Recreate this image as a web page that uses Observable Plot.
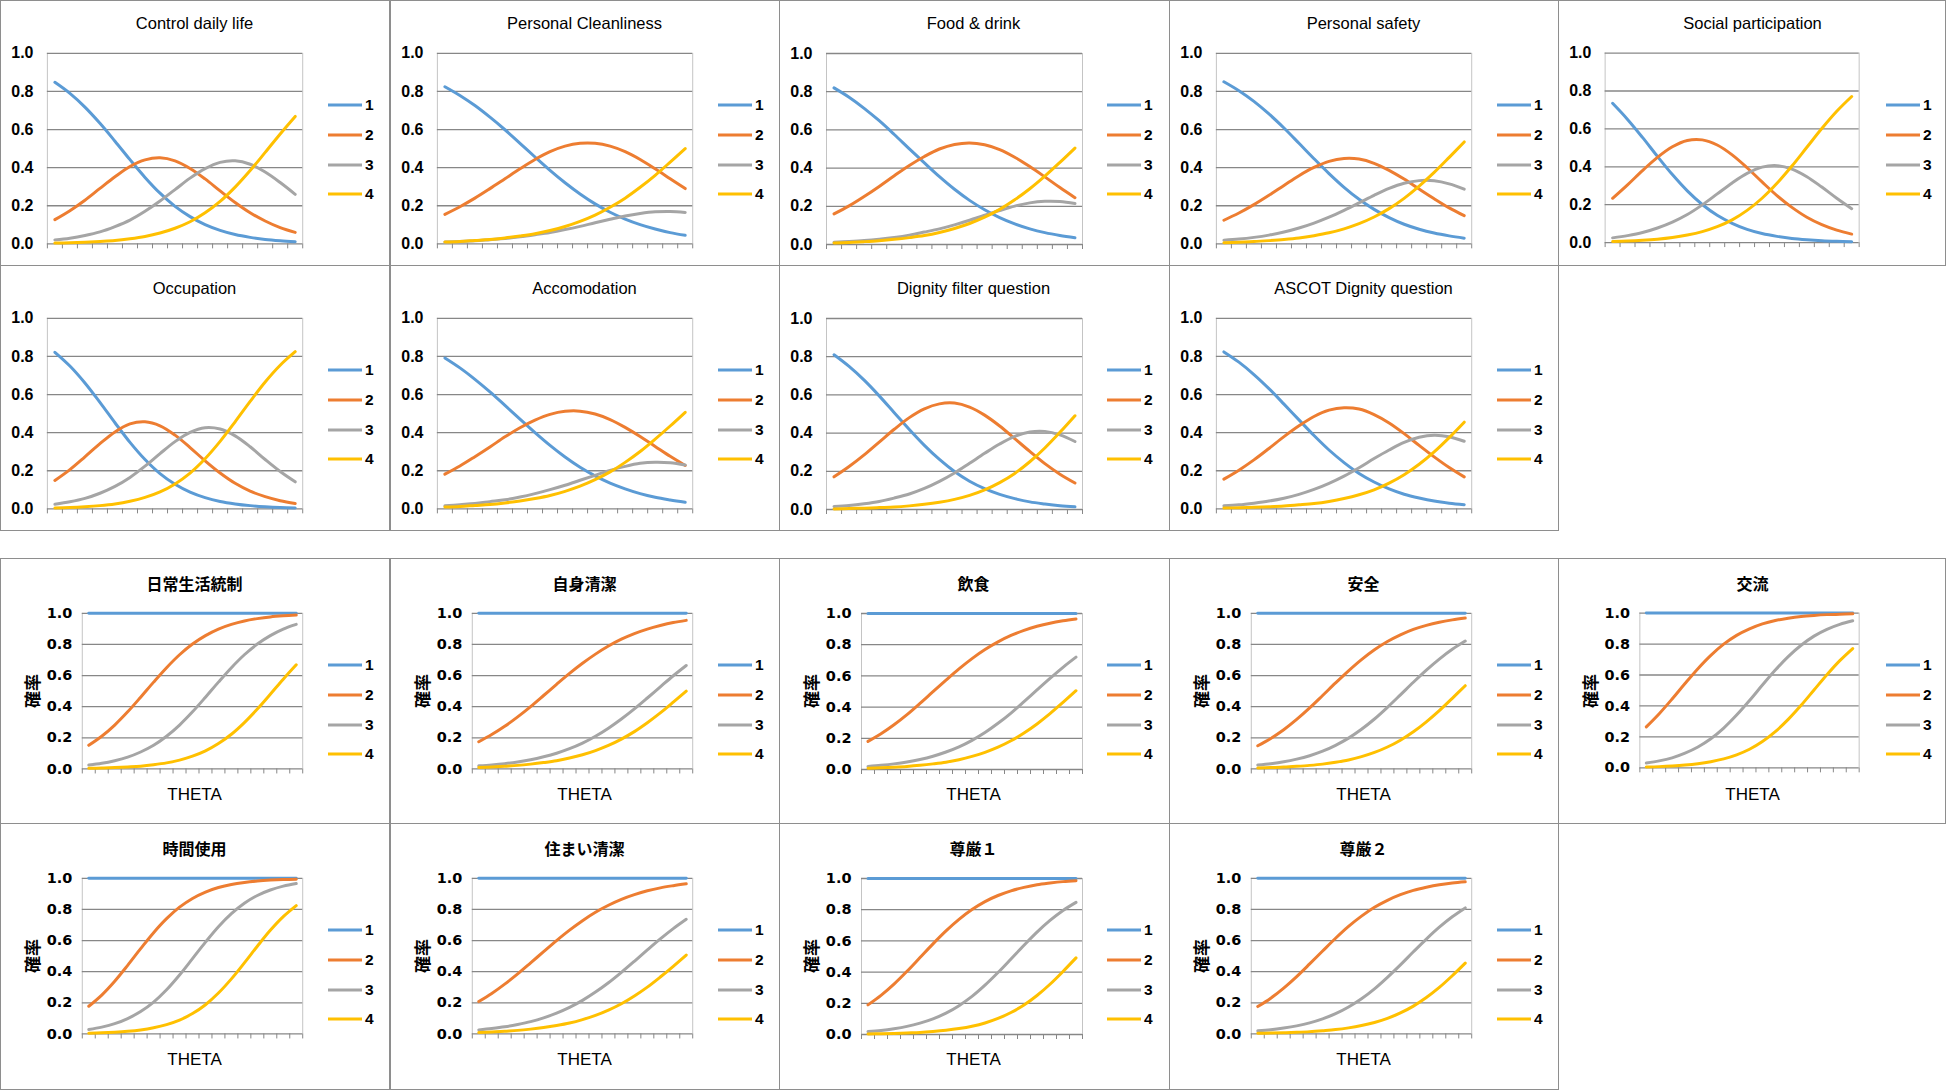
<!DOCTYPE html>
<html><head><meta charset="utf-8">
<script src="https://cdn.jsdelivr.net/npm/d3@7"></script>
<script src="https://cdn.jsdelivr.net/npm/@observablehq/plot@0.6"></script>
<style>
html,body{margin:0;padding:0;background:#fff;}
#root{position:relative;width:1946px;height:1090px;overflow:hidden;background:#fff;}
.panel{position:absolute;box-sizing:border-box;border:1px solid #8e8e8e;}
.panel > svg{position:absolute;left:-1px;top:-1px;overflow:visible;}
.title{position:absolute;left:-1px;width:389px;text-align:center;font-size:16px;line-height:20px;color:#000;white-space:nowrap;}
.title.en{font-family:"Liberation Sans",Arial,sans-serif;font-size:16.5px;}
.title.ja{font-family:"Noto Sans CJK JP",sans-serif;font-weight:bold;}
.xlab{position:absolute;left:-1px;width:389px;text-align:center;font-family:"Liberation Sans",Arial,sans-serif;font-size:17px;line-height:20px;}
.ylab{position:absolute;font-family:"Noto Sans CJK JP",sans-serif;font-weight:bold;font-size:17px;line-height:20px;white-space:nowrap;transform:translate(-50%,-50%) rotate(-90deg);}
</style></head>
<body><div id="root"></div>
<script>
// ---------- categories / labels ----------
const THETA = [-4,-3.5,-3,-2.5,-2,-1.5,-1,-0.5,0,0.5,1,1.5,2,2.5,3,3.5,4];
const CATEGORIES = ["1","2","3","4"];
const COLORS = ["#5B9BD5","#ED7D31","#A5A5A5","#FFC000"];
const Y_TICKS = [0,0.2,0.4,0.6,0.8,1.0];
const TITLES_EN = ["Control daily life","Personal Cleanliness","Food & drink","Personal safety","Social participation","Occupation","Accomodation","Dignity filter question","ASCOT Dignity question"];
const TITLES_JA = ["日常生活統制","自身清潔","飲食","安全","交流","時間使用","住まい清潔","尊厳１","尊厳２"];
const Y_LABEL = "確率";
const X_LABEL = "THETA";
const ONES = [1,1,1,1,1,1,1,1,1,1,1,1,1,1,1,1,1];

// ---------- Control daily life ----------
const cdl_p1 = [.848,.790,.718,.633,.539,.442,.349,.266,.197,.143,.101,.071,.049,.034,.023,.016,.011];
const cdl_p2 = [.127,.174,.229,.291,.352,.406,.441,.452,.436,.396,.341,.278,.217,.163,.120,.085,.060];
const cdl_p3 = [.021,.030,.044,.063,.091,.125,.171,.225,.285,.345,.395,.428,.436,.418,.377,.322,.260];
const cdl_p4 = [.004,.006,.009,.013,.018,.027,.039,.057,.082,.116,.163,.223,.298,.385,.480,.577,.669];
const cdl_c2 = [.152,.210,.282,.367,.461,.558,.651,.734,.803,.857,.899,.929,.951,.966,.977,.984,.989];
const cdl_c3 = [.025,.036,.053,.076,.109,.152,.210,.282,.367,.461,.558,.651,.734,.803,.857,.899,.929];
// ---------- Personal Cleanliness ----------
const pcl_p1 = [.825,.779,.726,.665,.599,.528,.456,.386,.321,.262,.210,.166,.130,.101,.078,.059,.045];
const pcl_p2 = [.155,.195,.240,.290,.342,.394,.443,.484,.513,.528,.528,.513,.484,.443,.394,.342,.290];
const pcl_p3 = [.010,.013,.016,.022,.028,.037,.048,.060,.075,.092,.111,.129,.146,.159,.168,.170,.165];
const pcl_p4 = [.010,.013,.018,.023,.031,.041,.053,.070,.091,.118,.151,.192,.240,.297,.360,.429,.500];
const pcl_c2 = [.175,.221,.274,.335,.401,.472,.544,.614,.679,.738,.790,.834,.870,.899,.922,.941,.955];
const pcl_c3 = [.020,.026,.034,.045,.059,.078,.101,.130,.166,.210,.262,.321,.386,.456,.528,.599,.665];
// ---------- Food & drink ----------
const fd_p1 = [.820,.771,.713,.648,.576,.501,.427,.355,.289,.231,.182,.141,.108,.082,.062,.047,.035];
const fd_p2 = [.160,.202,.251,.304,.360,.414,.461,.500,.524,.532,.522,.497,.457,.408,.354,.298,.245];
const fd_p3 = [.012,.016,.021,.028,.037,.049,.065,.082,.103,.127,.153,.178,.201,.218,.226,.225,.215];
const fd_p4 = [.008,.011,.015,.020,.027,.036,.047,.063,.084,.110,.143,.184,.234,.292,.358,.430,.505];
const fd_c2 = [.180,.229,.287,.352,.424,.499,.573,.645,.711,.769,.818,.859,.892,.918,.938,.953,.965];
const fd_c3 = [.020,.027,.036,.048,.064,.085,.112,.145,.187,.237,.296,.362,.435,.510,.584,.655,.720];
// ---------- Personal safety ----------
const ps_p1 = [.851,.804,.748,.682,.608,.528,.447,.369,.297,.234,.181,.138,.103,.077,.057,.042,.030];
const ps_p2 = [.124,.162,.206,.255,.307,.358,.401,.433,.448,.445,.423,.386,.340,.288,.237,.189,.148];
const ps_p3 = [.019,.025,.034,.046,.062,.083,.109,.140,.176,.215,.255,.291,.318,.332,.331,.315,.287];
const ps_p4 = [.006,.009,.012,.017,.023,.031,.043,.058,.079,.106,.141,.185,.239,.303,.375,.454,.535];
const ps_c2 = [.149,.196,.252,.318,.392,.472,.553,.631,.703,.766,.819,.862,.897,.923,.943,.958,.970];
const ps_c3 = [.025,.034,.046,.063,.085,.114,.152,.198,.255,.321,.396,.476,.557,.635,.706,.769,.822];
// ---------- Social participation ----------
const sp_p1 = [.735,.650,.555,.455,.359,.273,.201,.144,.102,.070,.048,.033,.022,.015,.010,.007,.005];
const sp_p2 = [.234,.305,.380,.450,.506,.539,.542,.515,.463,.395,.320,.248,.186,.134,.095,.066,.045];
const sp_p3 = [.025,.037,.053,.077,.108,.148,.199,.257,.315,.365,.398,.406,.388,.348,.293,.234,.179];
const sp_p4 = [.006,.008,.012,.018,.027,.040,.058,.084,.120,.170,.234,.313,.404,.503,.602,.693,.771];
const sp_c2 = [.265,.350,.445,.545,.641,.727,.799,.856,.898,.930,.952,.967,.978,.985,.990,.993,.995];
const sp_c3 = [.031,.045,.065,.095,.135,.188,.257,.341,.435,.535,.632,.719,.792,.851,.895,.927,.950];
// ---------- Occupation ----------
const occ_p1 = [.822,.750,.661,.559,.452,.349,.259,.185,.129,.088,.059,.039,.026,.017,.011,.007,.005];
const occ_p2 = [.149,.206,.273,.342,.404,.446,.457,.436,.387,.322,.252,.188,.134,.093,.064,.043,.028];
const occ_p3 = [.024,.037,.055,.082,.118,.165,.224,.290,.353,.402,.426,.419,.383,.326,.259,.196,.142];
const occ_p4 = [.005,.007,.011,.017,.026,.040,.060,.089,.131,.188,.263,.354,.457,.564,.666,.754,.825];
const occ_c2 = [.178,.250,.339,.441,.548,.651,.741,.815,.871,.912,.941,.961,.974,.983,.989,.993,.995];
const occ_c3 = [.029,.044,.066,.099,.144,.205,.284,.379,.484,.590,.689,.773,.840,.890,.925,.950,.967];
// ---------- Accomodation ----------
const acc_p1 = [.792,.740,.680,.614,.543,.471,.400,.333,.272,.218,.173,.135,.105,.080,.061,.047,.035];
const acc_p2 = [.182,.225,.274,.325,.378,.426,.466,.496,.512,.513,.498,.469,.428,.380,.328,.276,.228];
const acc_p3 = [.016,.022,.028,.038,.048,.062,.080,.101,.124,.150,.176,.202,.223,.239,.245,.242,.230];
const acc_p4 = [.010,.013,.018,.023,.031,.041,.054,.070,.092,.119,.153,.194,.244,.301,.366,.435,.507];
const acc_c2 = [.208,.260,.320,.386,.457,.529,.600,.667,.728,.782,.827,.865,.895,.920,.939,.953,.965];
const acc_c3 = [.026,.035,.046,.061,.079,.103,.134,.171,.216,.269,.329,.396,.467,.540,.611,.677,.737];
// ---------- Dignity filter question ----------
const dfq_p1 = [.810,.749,.677,.595,.507,.419,.336,.262,.199,.148,.109,.079,.057,.040,.029,.020,.014];
const dfq_p2 = [.171,.225,.286,.353,.420,.481,.527,.553,.557,.536,.494,.437,.371,.304,.240,.185,.139];
const dfq_p3 = [.016,.021,.030,.042,.060,.081,.110,.147,.191,.242,.294,.343,.383,.406,.409,.391,.356];
const dfq_p4 = [.003,.005,.007,.010,.013,.019,.027,.038,.053,.074,.103,.141,.189,.250,.322,.404,.491];
const dfq_c2 = [.190,.251,.323,.405,.493,.581,.664,.738,.801,.852,.891,.921,.943,.960,.971,.980,.986];
const dfq_c3 = [.019,.026,.037,.052,.073,.100,.137,.185,.244,.316,.397,.484,.572,.656,.731,.795,.847];
// ---------- ASCOT Dignity question ----------
const adq_p1 = [.824,.770,.705,.631,.550,.467,.385,.309,.243,.186,.141,.105,.077,.057,.041,.030,.022];
const adq_p2 = [.156,.203,.257,.317,.379,.436,.485,.518,.531,.524,.495,.451,.395,.333,.273,.217,.168];
const adq_p3 = [.016,.021,.030,.041,.056,.076,.102,.134,.172,.216,.264,.309,.349,.376,.387,.379,.355];
const adq_p4 = [.004,.006,.008,.011,.015,.021,.028,.039,.054,.074,.100,.135,.179,.234,.299,.374,.455];
const adq_c2 = [.176,.230,.295,.369,.450,.533,.615,.691,.757,.814,.859,.895,.923,.943,.959,.970,.978];
const adq_c3 = [.020,.027,.038,.052,.071,.097,.130,.173,.226,.290,.364,.444,.528,.610,.686,.753,.810];

const PROB_SERIES = [
  [cdl_p1,cdl_p2,cdl_p3,cdl_p4],[pcl_p1,pcl_p2,pcl_p3,pcl_p4],[fd_p1,fd_p2,fd_p3,fd_p4],
  [ps_p1,ps_p2,ps_p3,ps_p4],[sp_p1,sp_p2,sp_p3,sp_p4],[occ_p1,occ_p2,occ_p3,occ_p4],
  [acc_p1,acc_p2,acc_p3,acc_p4],[dfq_p1,dfq_p2,dfq_p3,dfq_p4],[adq_p1,adq_p2,adq_p3,adq_p4]
];
const CUM_SERIES = [
  [ONES,cdl_c2,cdl_c3,cdl_p4],[ONES,pcl_c2,pcl_c3,pcl_p4],[ONES,fd_c2,fd_c3,fd_p4],
  [ONES,ps_c2,ps_c3,ps_p4],[ONES,sp_c2,sp_c3,sp_p4],[ONES,occ_c2,occ_c3,occ_p4],
  [ONES,acc_c2,acc_c3,acc_p4],[ONES,dfq_c2,dfq_c3,dfq_p4],[ONES,adq_c2,adq_c3,adq_p4]
];

// ---------- layout ----------
const COL_X = [0,390,779,1169,1558];
const COL_W = [390,390,391,390,388];
const TOP_ROWS = [{y:0,h:266},{y:265,h:266}];
const BOT_ROWS = [{y:558,h:266},{y:823,h:267}];
const PW = 389;

const root = document.getElementById("root");
const step = THETA[1]-THETA[0];
const bounds = d3.range(THETA.length+1).map(j => THETA[0] - step/2 + step*j);

function panel(x, y, w, h, title, series, kind) {
  const div = document.createElement("div");
  div.className = "panel";
  Object.assign(div.style, {left: x+"px", top: y+"px", width: w+"px", height: h+"px"});
  root.appendChild(div);

  const rows = [];
  series.forEach((arr, k) => arr.forEach((v, i) => rows.push({theta: THETA[i], series: CATEGORIES[k], value: v})));

  const top = kind === "top";
  const plotH = h - 1;
  const m = top ? {l:47, r:PW-303, t:53, b:plotH-244} : {l:82, r:PW-303, t:55, b:plotH-211};
  const tickFont = top ? {fontFamily:"Liberation Sans, Arial, sans-serif", fontSize:16, fontWeight:"bold"}
                       : {fontFamily:"DejaVu Sans, sans-serif", fontSize:14.5, fontWeight:"bold"};

  const chart = Plot.plot({
    width: PW, height: plotH,
    marginLeft: m.l, marginRight: m.r, marginTop: m.t, marginBottom: m.b,
    x: {type: "linear", domain: [bounds[0], bounds[bounds.length-1]], axis: null},
    y: {domain: [0, 1], axis: null},
    color: {domain: CATEGORIES, range: COLORS},
    style: {background: "transparent", overflow: "visible", color: "#000"},
    marks: [
      Plot.ruleX([bounds[0], bounds[bounds.length-1]], {stroke: "#c4c4c4", strokeWidth: 1}),
      Plot.ruleY(Y_TICKS, {stroke: "#878787", strokeWidth: 1.3}),
      Plot.axisX({ticks: bounds, tickSize: 5, tickFormat: () => "", stroke: "#878787", label: null}),
      Plot.axisY({ticks: Y_TICKS, tickSize: 0, tickPadding: top ? 14 : 10, tickFormat: d3.format(".1f"), label: null, ...tickFont}),
      Plot.line(rows, {x: "theta", y: "value", stroke: "series", z: "series", curve: "catmull-rom", strokeWidth: 3, strokeLinecap: "round", strokeLinejoin: "round"})
    ]
  });
  div.appendChild(chart);

  const t = document.createElement("div");
  t.className = "title " + (top ? "en" : "ja");
  t.textContent = title;
  t.style.top = (top ? 23 : 25) - 10 - 1 + "px";
  div.appendChild(t);

  // legend
  const ly = top ? [105,135,165,194] : [107,137,167,196];
  const lg = d3.select(div).append("svg").attr("width", PW).attr("height", plotH)
    .style("position","absolute").style("left","-1px").style("top","-1px");
  CATEGORIES.forEach((c, k) => {
    lg.append("line").attr("x1", 328).attr("x2", 362).attr("y1", ly[k]).attr("y2", ly[k])
      .attr("stroke", COLORS[k]).attr("stroke-width", 3);
    lg.append("text").attr("x", 365).attr("y", ly[k]).attr("dy", "0.35em")
      .attr("font-family", "Liberation Sans, Arial, sans-serif").attr("font-size", 15.5).attr("font-weight", "bold")
      .text(c);
  });

  if (!top) {
    const xl = document.createElement("div");
    xl.className = "xlab"; xl.textContent = X_LABEL;
    xl.style.top = (237 - 10 - 1) + "px";
    div.appendChild(xl);
    const yl = document.createElement("div");
    yl.className = "ylab"; yl.textContent = Y_LABEL;
    yl.style.left = (32 - 1) + "px"; yl.style.top = (133 - 1) + "px";
    div.appendChild(yl);
  }
}

for (let k = 0; k < 9; k++) {
  const r = Math.floor(k / 5), c = k % 5;
  panel(COL_X[c], TOP_ROWS[r].y, COL_W[c], TOP_ROWS[r].h, TITLES_EN[k], PROB_SERIES[k], "top");
  panel(COL_X[c], BOT_ROWS[r].y, COL_W[c], BOT_ROWS[r].h, TITLES_JA[k], CUM_SERIES[k], "bottom");
}
</script>
</body></html>
